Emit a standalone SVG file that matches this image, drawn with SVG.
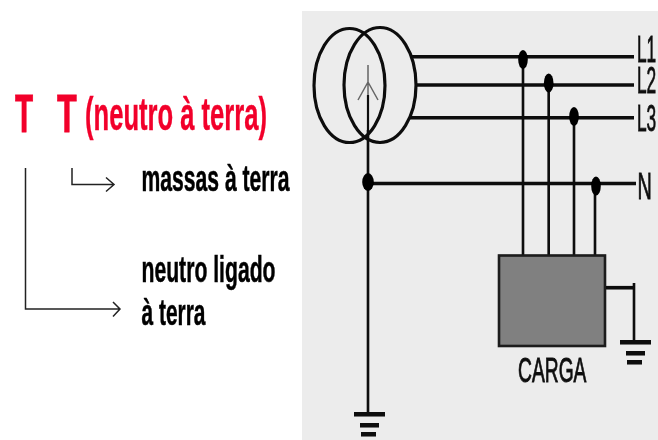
<svg xmlns="http://www.w3.org/2000/svg" width="658" height="440" viewBox="0 0 658 440">
<defs>
<style>
text{font-family:"Liberation Sans",Arial,sans-serif}
.w{fill:none;stroke:#0a0a0a;stroke-width:3.6}
.t{fill:none;stroke:#0a0a0a;stroke-width:2.6}
.c{fill:none;stroke:#111;stroke-width:3.2}
.d{fill:#000}
.b{fill:#0a0a0a}
.lab{font-size:18px;fill:#111;stroke:#111;stroke-width:.45}
.red{font-weight:bold;fill:#f2002c;stroke:#f2002c;stroke-width:.4}
.blk{font-weight:bold;fill:#000;font-size:36px;stroke:#000;stroke-width:.5}
.a{fill:none;stroke:#222;stroke-width:1.5}
</style>
<filter id="soft" x="-5%" y="-5%" width="110%" height="110%"><feGaussianBlur stdDeviation="0.45"/></filter>
<filter id="soft2" x="-5%" y="-15%" width="110%" height="130%"><feGaussianBlur stdDeviation="0.6"/></filter>
</defs>
<rect width="658" height="440" fill="#ffffff"/>
<rect x="302" y="11" width="356" height="429" fill="#ececec"/>
<g filter="url(#soft)">
<g id="connectors">
<path class="w" d="M411 56.7H634M417 85H634M410 117.7H634M368 183.5H636"/>
<path class="t" d="M523 57V255M548.7 85V255M574 118V255M595 184V255M368 130V413"/>
<path class="t" d="M634 283V341"/>
<path class="w" d="M605 287.7H634"/>
<path d="M368 65V95M368 82L358 100M368 82L378 100" fill="none" stroke="#666" stroke-width="1.5"/>
<path d="M368 95V130" fill="none" stroke="#111" stroke-width="2.2"/>
</g>
<g id="transformer">
<ellipse class="c" cx="349.5" cy="85.5" rx="35.5" ry="57"/>
<ellipse class="c" cx="380" cy="85" rx="36" ry="57.5"/>
</g>
<g id="junctions">
<ellipse class="d" cx="523" cy="59.5" rx="4.8" ry="9.5"/>
<ellipse class="d" cx="548.7" cy="83" rx="4.8" ry="9.5"/>
<ellipse class="d" cx="574" cy="116.5" rx="4.8" ry="9.5"/>
<ellipse class="d" cx="596" cy="186" rx="4.8" ry="9.5"/>
<ellipse class="d" cx="368" cy="182" rx="5.8" ry="9"/>
</g>
<g id="carga">
<rect x="499" y="255.5" width="106" height="90.5" fill="#808080" stroke="#1a1a1a" stroke-width="2.6"/>
<text class="lab" transform="translate(518 381.5) scale(1.07 2)">CARGA</text>
</g>
<g id="ground-carga">
<rect class="b" x="620" y="340" width="31" height="4.5"/>
<rect class="b" x="626" y="351" width="19" height="4.5"/>
<rect class="b" x="627" y="360" width="15" height="4.5"/>
</g>
<g id="ground-neutro">
<rect class="b" x="354" y="412" width="31" height="4.5"/>
<rect class="b" x="360" y="423" width="19" height="4.5"/>
<rect class="b" x="361" y="432" width="15" height="4.5"/>
</g>
<g id="labels-fases">
<text class="lab" transform="translate(637 61.5) scale(.96 2)">L1</text>
<text class="lab" transform="translate(637 93) scale(.96 2)">L2</text>
<text class="lab" transform="translate(637 130.5) scale(.96 2)">L3</text>
<text class="lab" transform="translate(637.5 199) scale(1.1 2)">N</text>
</g>
</g>
<g filter="url(#soft2)">
<g id="titulo">
<text class="red" font-size="27" transform="translate(15 132) scale(1.1 2)">T</text>
<text class="red" font-size="27" transform="translate(57 132) scale(1.2 2)">T</text>
<text class="red" x="85" y="130" font-size="46" textLength="182" lengthAdjust="spacingAndGlyphs">(neutro à terra)</text>
</g>
<g id="massas">
<text class="blk" x="141.5" y="191" textLength="148" lengthAdjust="spacingAndGlyphs">massas à terra</text>
</g>
<g id="neutro">
<text class="blk" x="141.5" y="282" textLength="134" lengthAdjust="spacingAndGlyphs">neutro ligado</text>
<text class="blk" x="141.5" y="325" textLength="64" lengthAdjust="spacingAndGlyphs">à terra</text>
</g>
</g>
<g id="setas">
<path class="a" d="M72 168V184.5H114M106 177.5L114 184.5L106 191.5"/>
<path class="a" d="M25.5 168V309H120M113 302L120 309L113 316.5"/>
</g>
</svg>
